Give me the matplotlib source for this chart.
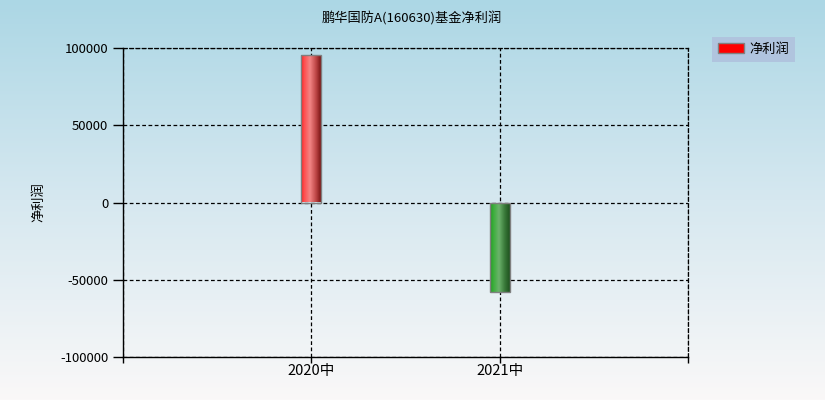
import numpy as np
import matplotlib
matplotlib.use("Agg")
import matplotlib.pyplot as plt
from matplotlib.patches import Rectangle, Patch
from matplotlib.colors import LinearSegmentedColormap

plt.rcParams['font.family'] = ['Noto Sans CJK SC', 'DejaVu Sans']

title = "鹏华国防A(160630)基金净利润"
categories = ["2020中", "2021中"]
values = [95500, -58000]
ylabel = "净利润"
legend_label = "净利润"
yticks = [-100000, -50000, 0, 50000, 100000]

W, H = 825, 400
fig = plt.figure(figsize=(W / 100, H / 100), dpi=100)

# background gradient
bg = fig.add_axes([0, 0, 1, 1], zorder=-10)
bg.axis('off')
top = np.array([172, 215, 229]) / 255
mid = np.array([214, 232, 240]) / 255
bot = np.array([250, 248, 248]) / 255
t = np.linspace(0, 1, 400)[:, None]
grad = np.where(t < 0.5, top + (mid - top) * (t / 0.5), mid + (bot - mid) * ((t - 0.5) / 0.5))
bg.imshow(grad[:, None, :].repeat(2, axis=1), aspect='auto', extent=[0, 1, 0, 1])
bg.set_xlim(0, 1); bg.set_ylim(0, 1)

ax = fig.add_axes([123 / W, 43 / H, 565 / W, 309 / H])
ax.set_facecolor('none')

red_cmap = LinearSegmentedColormap.from_list('r', [
    (0.0, (1.0, 0.12, 0.12)), (0.15, (1.0, 0.3, 0.3)), (0.45, (0.95, 0.52, 0.52)),
    (0.75, (0.75, 0.28, 0.28)), (1.0, (0.48, 0.08, 0.08))])
green_cmap = LinearSegmentedColormap.from_list('g', [
    (0.0, (0.12, 0.6, 0.12)), (0.15, (0.22, 0.68, 0.22)), (0.45, (0.42, 0.7, 0.42)),
    (0.75, (0.22, 0.47, 0.22)), (1.0, (0.12, 0.32, 0.12))])

bw = 0.106
xs = np.arange(len(categories))
gimg = np.linspace(0, 1, 100)[None, :]
for x, v in zip(xs, values):
    cmap = red_cmap if v >= 0 else green_cmap
    rect = Rectangle((x - bw / 2, min(0, v)), bw, abs(v), facecolor='none',
                     edgecolor='#7f7f7f', linewidth=1.0, zorder=4)
    ax.add_patch(rect)
    im = ax.imshow(gimg, cmap=cmap, aspect='auto', interpolation='bilinear',
                   extent=[x - bw / 2, x + bw / 2, min(0, v), max(0, v)], zorder=3)
    im.set_clip_path(rect)
ax.set_xlim(-1, 2)
ax.set_ylim(-100000, 100000)

ax.set_xticks([-1, 0, 1, 2])
ax.set_xticklabels(["", categories[0], categories[1], ""], fontsize=10.5)
ax.set_yticks(yticks)
ax.set_yticklabels([str(v) for v in yticks], fontsize=9.5)
ax.tick_params(axis='y', direction='out', length=7, width=1)
ax.tick_params(axis='x', direction='out', length=4, width=1, pad=1)

ax.grid(True, color='black', linestyle=(0, (3, 2)), linewidth=0.9, zorder=1)
ax.set_axisbelow(True)
for s in ['top', 'right']:
    ax.spines[s].set_linestyle((0, (3, 2)))
    ax.spines[s].set_linewidth(0.9)
for s in ['left', 'bottom']:
    ax.spines[s].set_linewidth(1)

fig.text(39 / W, 1 - 202 / H, ylabel, rotation=90, ha='center', va='center', fontsize=9.5)
fig.text(412 / W, 1 - 18 / H, title, ha='center', va='center', fontsize=9.5)

leg = fig.legend(handles=[Patch(facecolor='red', edgecolor='#808080', label=legend_label)],
                 loc='upper left', bbox_to_anchor=(712 / W, 1 - 37 / H),
                 frameon=True, fancybox=False, borderaxespad=0, fontsize=9.5,
                 handlelength=2.0, handleheight=0.8, borderpad=0.45, handletextpad=0.4)
leg.get_frame().set_facecolor((176 / 255, 196 / 255, 222 / 255))
leg.get_frame().set_edgecolor('none')
leg.get_frame().set_alpha(1)

fig.savefig('out.png', dpi=100)
